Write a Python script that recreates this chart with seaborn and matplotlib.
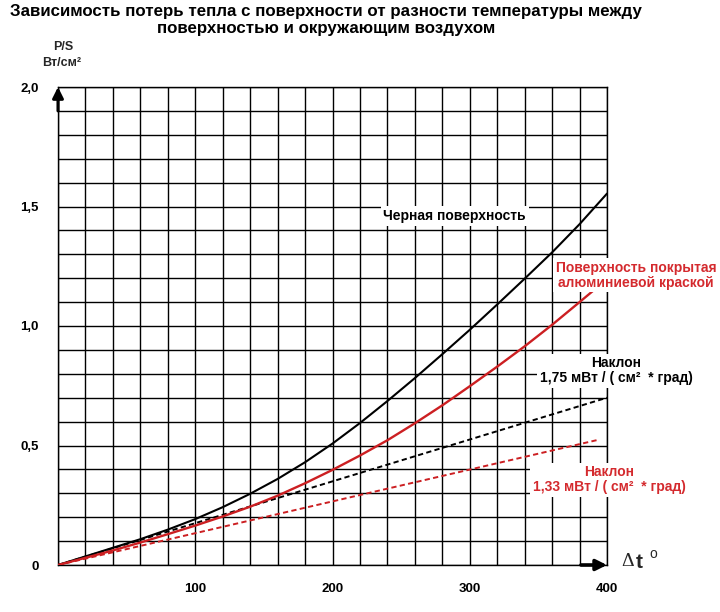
import numpy as np
import pandas as pd
import matplotlib
matplotlib.use("Agg")
import matplotlib.pyplot as plt
import seaborn as sns

# ---- data ----
dt_black = [0, 20, 40, 60, 80, 100, 120, 140, 160, 180, 200, 220, 240, 260, 280, 300, 320, 340, 360, 380, 400]
p_black = [0, 0.036, 0.072, 0.108, 0.148, 0.192, 0.242, 0.298, 0.360, 0.430, 0.508, 0.594, 0.686, 0.782,
           0.882, 0.984, 1.090, 1.198, 1.308, 1.426, 1.554]
dt_red = [0, 20, 40, 60, 80, 100, 120, 140, 160, 180, 200, 220, 240, 260, 280, 300, 320, 340, 360, 380, 390]
p_red = [0, 0.030, 0.061, 0.094, 0.129, 0.165, 0.203, 0.244, 0.290, 0.342, 0.398, 0.458, 0.522, 0.593,
         0.668, 0.748, 0.830, 0.915, 1.005, 1.100, 1.148]
dt_slope_black = [0, 400]
p_slope_black = [0, 0.70]
dt_slope_red = [0, 393]
p_slope_red = [0, 0.523]

x_ticks = [100, 200, 300, 400]
x_tick_labels = ["100", "200", "300", "400"]
y_ticks = [0, 0.5, 1.0, 1.5, 2.0]
y_tick_labels = ["0", "0,5", "1,0", "1,5", "2,0"]

title = "Зависимость потерь тепла с поверхности от разности температуры между\nповерхностью и окружающим воздухом"
label_black = "Черная поверхность"
label_red = "Поверхность покрытая\nалюминиевой краской"
label_slope_black = "Наклон\n1,75 мВт / ( см²  * град)"
label_slope_red = "Наклон\n1,33 мВт / ( см²  * град)"

RED = "#cc1f22"
RED_TXT = "#d42a2e"

sns.set_theme(style="white")
plt.rcParams['font.family'] = ['Liberation Sans', 'DejaVu Sans']

W, H = 720, 612
fig = plt.figure(figsize=(W / 100, H / 100), dpi=100)
ax = fig.add_axes([58 / W, 47 / H, 549 / W, 478 / H])

def fpx(x, y):
    return x / W, 1 - y / H

# curves
sns.lineplot(x=dt_black, y=p_black, ax=ax, color="black", lw=1.5, zorder=5)
sns.lineplot(x=dt_red, y=p_red, ax=ax, color=RED, lw=1.7, zorder=5)
sns.lineplot(x=dt_slope_black, y=p_slope_black, ax=ax, color="black", lw=1.4,
             linestyle=(0, (2.7, 1.7)), zorder=4)
sns.lineplot(x=dt_slope_red, y=p_slope_red, ax=ax, color=RED, lw=1.4,
             linestyle=(0, (2.7, 1.7)), zorder=4)
for ln in ax.lines:
    ln.set_solid_joinstyle('round')

ax.set_xlim(0, 400)
ax.set_ylim(0, 2.0)
ax.set_xticks(np.arange(0, 401, 20), minor=True)
ax.set_yticks(np.arange(0, 2.01, 0.1), minor=True)
ax.set_xticks(x_ticks)
ax.set_xticklabels(x_tick_labels)
ax.set_yticks(y_ticks)
ax.set_yticklabels(y_tick_labels)
ax.grid(which='both', color='black', lw=1.0)
ax.set_axisbelow(True)
for s in ax.spines.values():
    s.set_color('black')
    s.set_linewidth(1.0)
ax.tick_params(axis='both', which='both', length=0, labelsize=9.5, colors='black')
ax.tick_params(axis='x', pad=13)
ax.tick_params(axis='y', pad=14)
for lab in ax.get_xticklabels() + ax.get_yticklabels():
    lab.set_fontweight('bold')
ax.set_xlabel("")
ax.set_ylabel("")

# arrows
ax.annotate('', xy=(0, 2.0), xytext=(0, 1.9), annotation_clip=False,
            arrowprops=dict(arrowstyle='-|>', color='black', lw=2.2, mutation_scale=16, shrinkA=0, shrinkB=0),
            zorder=6)
ax.annotate('', xy=(400, 0), xytext=(381, 0), annotation_clip=False,
            arrowprops=dict(arrowstyle='-|>', color='black', lw=2.6, mutation_scale=16, shrinkA=0, shrinkB=0),
            zorder=6)

bb = dict(facecolor='white', edgecolor='none', pad=2)

ax.text(237, 1.46, label_black, ha='left', va='center', fontsize=10, fontweight='bold',
        color='black', bbox=bb, zorder=7, clip_on=False)
ax.text(421, 1.213, label_red, ha='center', va='center', fontsize=10, fontweight='bold',
        color=RED_TXT, bbox=bb, zorder=7, clip_on=False, linespacing=1.1, multialignment='center')
ax.text(407, 0.812, label_slope_black, ha='center', va='center', fontsize=10, fontweight='bold',
        color='black', bbox=bb, zorder=7, clip_on=False, linespacing=1.1, multialignment='center')
ax.text(401.5, 0.356, label_slope_red, ha='center', va='center', fontsize=10, fontweight='bold',
        color=RED_TXT, bbox=bb, zorder=7, clip_on=False, linespacing=1.1, multialignment='center')

# title
fig.text(*fpx(326, 4), title, ha='center', va='top', fontsize=12.2, fontweight='bold',
         color='black', linespacing=1.2)

# y axis label
fig.text(*fpx(63, 47), "P/S", ha='center', va='center', fontsize=9, fontweight='bold')
fig.text(*fpx(62, 63), "Вт/см²", ha='center', va='center', fontsize=9, fontweight='bold')

# x axis label
fig.text(*fpx(628, 562), "Δ", ha='center', va='center', fontsize=14,
         family=['Liberation Serif', 'DejaVu Serif'])
fig.text(*fpx(639, 562), "t", ha='center', va='center', fontsize=15, fontweight='bold')
fig.text(*fpx(653, 554), "o", ha='center', va='center', fontsize=10)

fig.savefig("out.png", dpi=100, facecolor='white')
